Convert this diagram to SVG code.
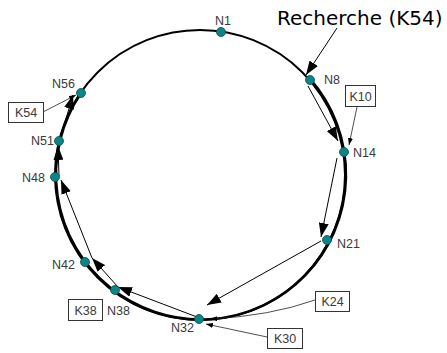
<svg xmlns="http://www.w3.org/2000/svg" width="447" height="353" viewBox="0 0 447 353">
<style>
.lbl{font-family:"Liberation Sans",Arial,sans-serif;font-size:12.5px;fill:#3a3a3a}
.key{font-family:"Liberation Sans",Arial,sans-serif;font-size:12.5px;fill:#3a3a3a;text-anchor:middle}
.box{fill:#fff;stroke:#333;stroke-width:1}
.dot{fill:#0b8585;stroke:#064e4e;stroke-width:0.8}
.hop{fill:none;stroke:#000;stroke-width:1;marker-end:url(#big)}
.kl{fill:none;stroke:#222;stroke-width:0.8;marker-end:url(#small)}
</style>
<defs>
<marker id="big" markerUnits="userSpaceOnUse" markerWidth="14" markerHeight="10" refX="14" refY="5" orient="auto">
<path d="M0,0 L14,5 L0,10 z" fill="#000"/>
</marker>
<marker id="small" markerUnits="userSpaceOnUse" markerWidth="7" markerHeight="5" refX="7" refY="2.5" orient="auto">
<path d="M0,0 L7,2.5 L0,5 z" fill="#000"/>
</marker>
</defs>
<rect width="447" height="353" fill="#fff"/>
<g id="ring">
<circle cx="200" cy="175" r="145" fill="none" stroke="#000" stroke-width="2"/>
<path d="M310,79 A145,145 0 1 1 81,93" fill="none" stroke="#000" stroke-width="2.7"/>
</g>
<g id="connectors">
<path class="hop" d="M337,28 L306,75"/>
<path class="hop" d="M308,86 L338,141"/>
<path class="hop" d="M337,158 L321,237"/>
<path class="hop" d="M321,241 L207,305"/>
<path class="hop" d="M197,317 L118,287"/>
<path class="hop" d="M118,287 L92,258"/>
<path class="hop" d="M92,258 L61,180"/>
<path class="hop" d="M59,176 L58,146"/>
<path class="hop" d="M60,139 L73,95"/>
<path class="kl" d="M43,112 L76,95"/>
<path class="kl" d="M357,107 L349,145"/>
<path class="kl" d="M315,300 Q270,316 210,319"/>
<path class="kl" d="M267,337 L206,324"/>
</g>
<g id="N1"><circle class="dot" cx="221" cy="32" r="4.5"/><text class="lbl" x="215" y="25">N1</text></g>
<g id="N8"><circle class="dot" cx="310" cy="80" r="4.5"/><text class="lbl" x="324" y="84">N8</text></g>
<g id="N14"><circle class="dot" cx="344" cy="152" r="4.5"/><text class="lbl" x="353" y="157">N14</text></g>
<g id="N21"><circle class="dot" cx="327" cy="240" r="4.5"/><text class="lbl" x="337" y="248">N21</text></g>
<g id="N32"><circle class="dot" cx="199" cy="319" r="4.5"/><text class="lbl" x="171" y="332">N32</text></g>
<g id="N38"><circle class="dot" cx="115" cy="290" r="4.5"/><text class="lbl" x="107" y="315">N38</text></g>
<g id="N42"><circle class="dot" cx="85" cy="262" r="4.5"/><text class="lbl" x="52" y="269">N42</text></g>
<g id="N48"><circle class="dot" cx="55" cy="177" r="4.5"/><text class="lbl" x="22" y="182">N48</text></g>
<g id="N51"><circle class="dot" cx="59" cy="141" r="4.5"/><text class="lbl" x="31" y="145">N51</text></g>
<g id="N56"><circle class="dot" cx="81" cy="93" r="4.5"/><text class="lbl" x="52" y="88">N56</text></g>
<g id="K54"><rect class="box" x="8.5" y="102.5" width="35" height="20"/><text class="key" x="26" y="117">K54</text></g>
<g id="K10"><rect class="box" x="345.5" y="85.5" width="30" height="21"/><text class="key" x="360.5" y="101">K10</text></g>
<g id="K24"><rect class="box" x="315.5" y="291.5" width="34" height="20"/><text class="key" x="332.5" y="306">K24</text></g>
<g id="K30"><rect class="box" x="267.5" y="328.5" width="35" height="20"/><text class="key" x="285" y="343">K30</text></g>
<g id="K38"><rect class="box" x="68.5" y="299.5" width="34" height="21"/><text class="key" x="85.5" y="315">K38</text></g>
<g id="query"><text x="277" y="25" font-family="DejaVu Sans,sans-serif" font-size="20" fill="#000">Recherche (K54)</text></g>
</svg>
